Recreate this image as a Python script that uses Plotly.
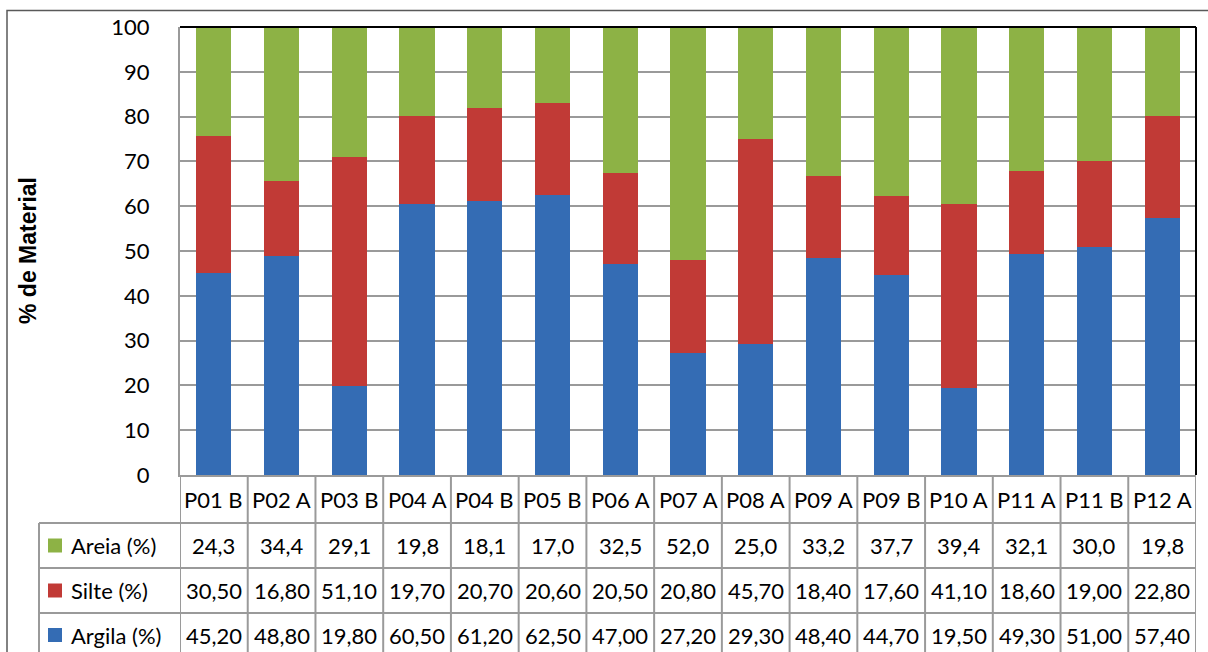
import plotly.graph_objects as go

# amostras e frações granulométricas (%)
pontos = ["P01 B", "P02 A", "P03 B", "P04 A", "P04 B", "P05 B", "P06 A", "P07 A",
          "P08 A", "P09 A", "P09 B", "P10 A", "P11 A", "P11 B", "P12 A"]
argila = [45.20, 48.80, 19.80, 60.50, 61.20, 62.50, 47.00, 27.20, 29.30, 48.40, 44.70, 19.50, 49.30, 51.00, 57.40]
silte = [30.50, 16.80, 51.10, 19.70, 20.70, 20.60, 20.50, 20.80, 45.70, 18.40, 17.60, 41.10, 18.60, 19.00, 22.80]
areia = [24.3, 34.4, 29.1, 19.8, 18.1, 17.0, 32.5, 52.0, 25.0, 33.2, 37.7, 39.4, 32.1, 30.0, 19.8]
y_ticks = list(range(0, 101, 10))

series = [
    ("Areia (%)", areia, "#8DB245", 1),
    ("Silte (%)", silte, "#C13A36", 2),
    ("Argila (%)", argila, "#346CB4", 2),
]

# figure geometry (pixels)
W, H = 1208, 652
L, R, T, B = 180, 1196, 27, 475
pw, ph = R - L, B - T


def px_x(p):
    return (p - L) / pw


def px_y(p):
    return (B - p) / ph


fig = go.Figure()
for nome, vals, cor, casas in reversed(series):
    fig.add_trace(go.Bar(x=pontos, y=vals, name=nome, marker_color=cor,
                         marker_line_width=0, width=0.52))

shapes = []
annots = []
grid = "#9a9a9a"

# plot frame: black top and right
shapes.append(dict(type="line", xref="paper", yref="paper", x0=0, x1=1, y0=1, y1=1,
                   line=dict(color="black", width=2)))
shapes.append(dict(type="line", xref="paper", yref="paper", x0=1, x1=1, y0=0, y1=1,
                   line=dict(color="black", width=2)))

# data table
row_lines = [px_y(523), px_y(568), px_y(613)]
bottom = px_y(660)
for k in range(len(pontos) + 1):
    shapes.append(dict(type="line", xref="x", yref="paper", x0=k - 0.5, x1=k - 0.5,
                       y0=0, y1=bottom, line=dict(color=grid, width=2)))
shapes.append(dict(type="line", xref="paper", yref="paper", x0=px_x(39), x1=px_x(39),
                   y0=row_lines[0], y1=bottom, line=dict(color=grid, width=2)))
for yl in row_lines:
    shapes.append(dict(type="line", xref="paper", yref="paper", x0=px_x(39), x1=1,
                       y0=yl, y1=yl, line=dict(color=grid, width=2)))

font_tab = dict(family="Lato, Calibri, sans-serif", size=22, color="black")
for i, p in enumerate(pontos):
    annots.append(dict(x=p, y=px_y(499), xref="x", yref="paper", text=p, showarrow=False,
                       font=font_tab, xanchor="center", yanchor="middle"))

row_centers = [px_y(545.5), px_y(590.5), px_y(635)]
for (nome, vals, cor, casas), yc, yp in zip(series, row_centers, [545.5, 590.5, 635]):
    for p, v in zip(pontos, vals):
        txt = f"{v:.{casas}f}".replace(".", ",")
        annots.append(dict(x=p, y=yc, xref="x", yref="paper", text=txt, showarrow=False,
                           font=font_tab, xanchor="center", yanchor="middle"))
    shapes.append(dict(type="rect", xref="paper", yref="paper", x0=px_x(48), x1=px_x(62),
                       y0=px_y(yp - 7), y1=px_y(yp + 7), fillcolor=cor, line=dict(width=0)))
    annots.append(dict(x=px_x(69), y=yc, xref="paper", yref="paper", text=nome, showarrow=False,
                       font=font_tab, xanchor="left", yanchor="middle"))

# outer chart border
shapes.append(dict(type="rect", xref="paper", yref="paper", x0=px_x(7), x1=px_x(1212),
                   y0=px_y(670), y1=px_y(10.5), line=dict(color="#595959", width=1.5)))

annots.append(dict(x=px_x(28), y=0.5, xref="paper", yref="paper", text="<b>% de Material</b>",
                   textangle=-90, showarrow=False, xanchor="center", yanchor="middle",
                   font=dict(family="Liberation Sans, Arial, sans-serif", size=23, color="black")))

fig.update_layout(
    barmode="stack",
    width=W, height=H,
    margin=dict(l=L, r=W - R, t=T, b=H - B),
    plot_bgcolor="white", paper_bgcolor="white",
    showlegend=False,
    shapes=shapes,
    annotations=annots,
)
fig.update_xaxes(range=[-0.5, len(pontos) - 0.5], showticklabels=False, ticks="",
                 showgrid=False, showline=True, linecolor=grid, linewidth=2, zeroline=False)
fig.update_yaxes(range=[0, 100], tickvals=y_ticks, showgrid=True, gridcolor=grid, gridwidth=2,
                 showline=True, linecolor=grid, linewidth=2, zeroline=False, ticks="",
                 ticklabelstandoff=24, tickfont=font_tab)

fig.write_html("out.html", config={"displayModeBar": False},
               post_script="document.body.style.margin='0';document.body.style.overflow='hidden';")
